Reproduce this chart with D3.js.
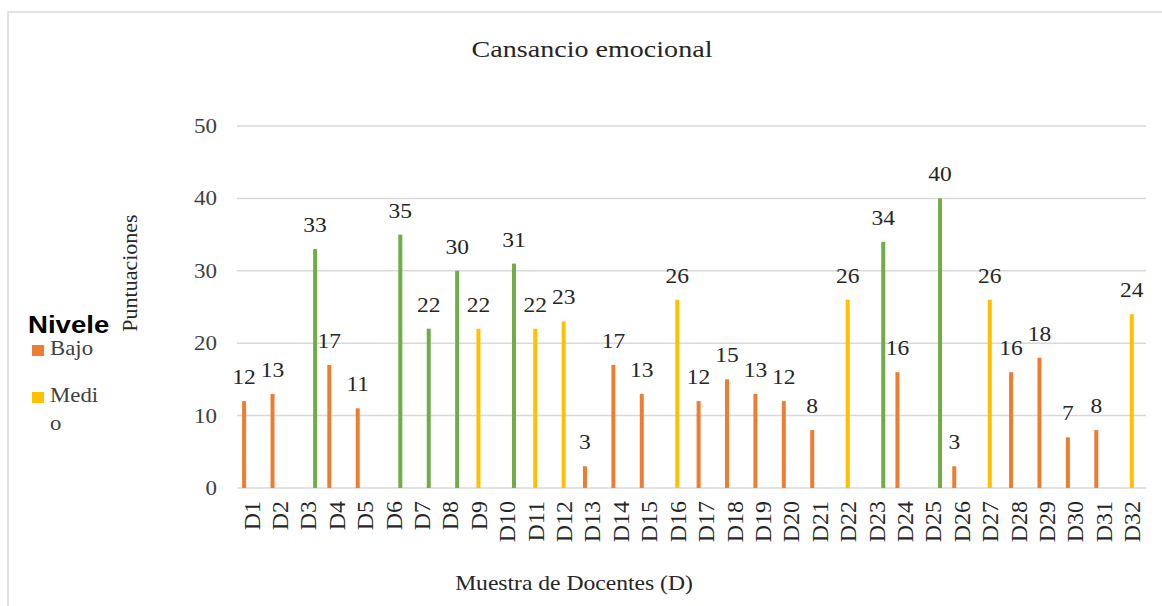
<!DOCTYPE html>
<html>
<head>
<meta charset="utf-8">
<script src="https://cdn.jsdelivr.net/npm/d3@7"></script>
<style>
    body { margin: 0; background: #ffffff; }
    svg { display: block; }
</style>
</head>
<body>
<svg id="chart"></svg>
<script>

// datos
let docentes = ["D1", "D2", "D3", "D4", "D5", "D6", "D7", "D8", "D9", "D10", "D11", "D12", "D13", "D14", "D15", "D16",
    "D17", "D18", "D19", "D20", "D21", "D22", "D23", "D24", "D25", "D26", "D27", "D28", "D29", "D30", "D31", "D32"];
let puntuaciones = [12, 13, 33, 17, 11, 35, 22, 30, 22, 31, 22, 23, 3, 17, 13, 26,
    12, 15, 13, 12, 8, 26, 34, 16, 40, 3, 26, 16, 18, 7, 8, 24];
let niveles = ["Bajo", "Bajo", "Alto", "Bajo", "Bajo", "Alto", "Alto", "Alto", "Medio", "Alto", "Medio", "Medio", "Bajo", "Bajo", "Bajo", "Medio",
    "Bajo", "Bajo", "Bajo", "Bajo", "Bajo", "Medio", "Alto", "Bajo", "Alto", "Bajo", "Medio", "Bajo", "Bajo", "Bajo", "Bajo", "Medio"];
let series = ["Bajo", "Medio", "Alto"];
let colores = ["#ED7D31", "#FFC000", "#70AD47"];
let yTicks = [0, 10, 20, 30, 40, 50];
let leyenda = ["Bajo", "Medio"];

let data = docentes.map((d, i) => ({ name: d, score: puntuaciones[i], nivel: niveles[i] }));

let width = 1162;
let height = 606;
let serif = "'Liberation Serif', 'Times New Roman', serif";

let svg = d3.select("#chart")
    .attr("width", width)
    .attr("height", height);

// marco del grafico
svg.append("rect")
    .attr("x", 8)
    .attr("y", 12)
    .attr("width", 1200)
    .attr("height", 700)
    .attr("fill", "white")
    .attr("stroke", "#d9d9d9")
    .attr("stroke-width", 1.5);

let scaleX = d3.scaleBand()
    .domain(docentes)
    .range([237, 1146]);

let scaleSerie = d3.scaleBand()
    .domain(series)
    .range([-scaleX.step() * 3 / 8, scaleX.step() * 3 / 8]);

let scaleY = d3.scaleLinear()
    .domain([0, 50])
    .range([488, 126]);

let color = d3.scaleOrdinal().domain(series).range(colores);

// texto horizontal algo ensanchado como en la imagen
function stretched(sel, x, y, sx) {
    return sel.attr("transform", `translate(${x},${y}) scale(${sx},1)`);
}

// GRID
svg.append("g")
    .selectAll("line")
    .data(yTicks)
    .enter()
    .append("line")
    .attr("x1", 237)
    .attr("x2", 1146)
    .attr("y1", d => scaleY(d))
    .attr("y2", d => scaleY(d))
    .attr("stroke", "#d9d9d9")
    .attr("stroke-width", 1.5);

// Y TICKS
svg.append("g")
    .selectAll("text")
    .data(yTicks)
    .enter()
    .append("text")
    .each(function (d) { stretched(d3.select(this), 217, scaleY(d), 1.15); })
    .attr("dy", "0.35em")
    .attr("text-anchor", "end")
    .style("font-family", serif)
    .style("font-size", "20px")
    .style("fill", "#404040")
    .text(d => d);

// BARS
let barWidth = 4;
let bars = svg.selectAll(".bar-group")
    .data(data)
    .enter()
    .append("g")
    .attr("class", "bar-group");

bars.append("rect")
    .attr("x", d => scaleX(d.name) + scaleX.bandwidth() / 2 + scaleSerie(d.nivel) + scaleSerie.bandwidth() / 2 - barWidth / 2)
    .attr("y", d => scaleY(d.score))
    .attr("width", barWidth)
    .attr("height", d => scaleY(0) - scaleY(d.score))
    .attr("fill", d => color(d.nivel));

// VALUE LABELS
bars.append("text")
    .each(function (d) {
        let cx = scaleX(d.name) + scaleX.bandwidth() / 2 + scaleSerie(d.nivel) + scaleSerie.bandwidth() / 2;
        stretched(d3.select(this), cx, scaleY(d.score) - 17, 1.12);
    })
    .attr("text-anchor", "middle")
    .style("font-family", serif)
    .style("font-size", "21px")
    .style("fill", "#262626")
    .text(d => d.score);

// X LABELS
svg.append("g")
    .selectAll("text")
    .data(docentes)
    .enter()
    .append("text")
    .attr("transform", d => `translate(${scaleX(d) + scaleX.bandwidth() / 2},501) rotate(-90)`)
    .attr("dy", "0.35em")
    .attr("text-anchor", "end")
    .style("font-family", serif)
    .style("font-size", "24px")
    .style("fill", "#262626")
    .text(d => d);

// TITLE
stretched(svg.append("text"), 592, 57, 1.17)
    .attr("text-anchor", "middle")
    .style("font-family", serif)
    .style("font-size", "24px")
    .style("fill", "#262626")
    .text("Cansancio emocional");

// AXIS TITLES
stretched(svg.append("text"), 574, 590, 1.18)
    .attr("text-anchor", "middle")
    .style("font-family", serif)
    .style("font-size", "20px")
    .style("fill", "#262626")
    .text("Muestra de Docentes (D)");

svg.append("text")
    .attr("transform", "translate(137,273) rotate(-90)")
    .attr("text-anchor", "middle")
    .style("font-family", serif)
    .style("font-size", "22px")
    .style("fill", "#262626")
    .text("Puntuaciones");

// LEGEND
stretched(svg.append("text"), 28, 333, 1.2)
    .style("font-family", "'Liberation Sans', Arial, sans-serif")
    .style("font-weight", "bold")
    .style("font-size", "23px")
    .style("fill", "#000")
    .text("Nivele");

let legendY = [355, 402];
let legendGroup = svg.selectAll(".legend")
    .data(leyenda)
    .enter()
    .append("g")
    .attr("class", "legend");

legendGroup.append("rect")
    .attr("x", 32)
    .attr("y", (d, i) => legendY[i] - 10)
    .attr("width", 12)
    .attr("height", 11)
    .attr("fill", d => color(d));

legendGroup.append("text")
    .each(function (d, i) { stretched(d3.select(this), 50, legendY[i], 1.14); })
    .style("font-family", serif)
    .style("font-size", "20px")
    .style("fill", "#404040")
    .text(d => d === "Medio" ? "Medi" : d);

// "Medio" se corta en dos lineas en el original
stretched(svg.append("text"), 50, 430, 1.14)
    .style("font-family", serif)
    .style("font-size", "20px")
    .style("fill", "#404040")
    .text("o");

</script>
</body>
</html>
